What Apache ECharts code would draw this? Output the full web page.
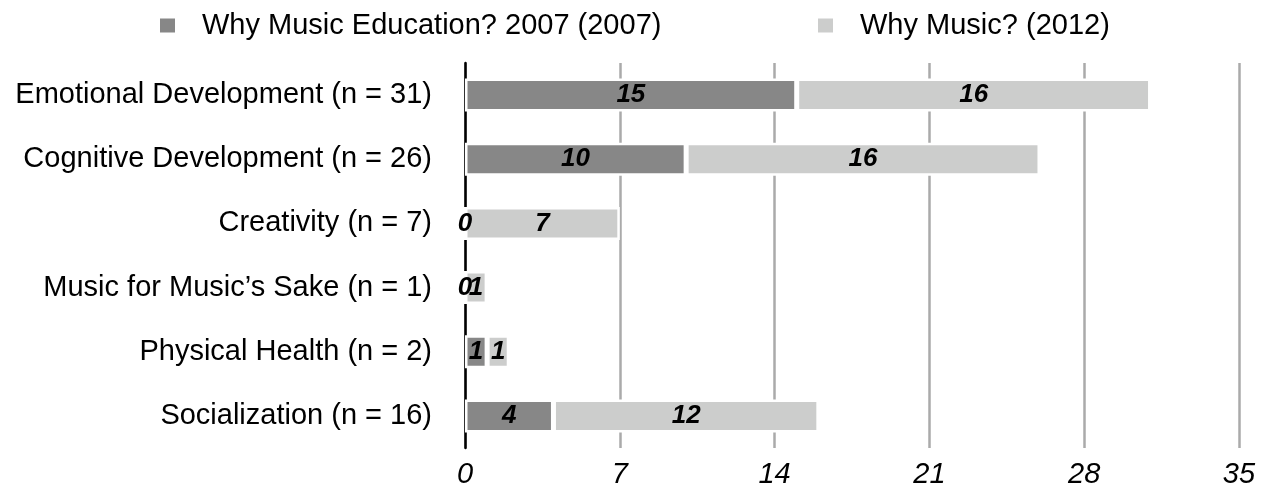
<!DOCTYPE html>
<html>
<head>
<meta charset="utf-8">
<script src="https://cdn.jsdelivr.net/npm/echarts@6/dist/echarts.min.js"></script>
<style>
  html, body { margin: 0; padding: 0; background: #fff; }
  #chartBox { width: 1265px; height: 489px; }
</style>
</head>
<body>
<div id="chartBox"></div>
<script>
// data
const categories = [
  'Emotional Development (n = 31)',
  'Cognitive Development (n = 26)',
  'Creativity (n = 7)',
  'Music for Music\u2019s Sake (n = 1)',
  'Physical Health (n = 2)',
  'Socialization (n = 16)'
]
const seriesNames = ['Why Music Education? 2007 (2007)', 'Why Music? (2012)']
const values2007 = [15, 10, 0, 0, 1, 4]
const values2012 = [16, 16, 7, 1, 1, 12]
const colors = ['#878787', '#cccdcc']

const fontFamily = 'Liberation Sans, Arial, Helvetica, sans-serif'

const barLabel = {
  show: true,
  position: 'inside',
  color: '#000',
  fontSize: 26,
  fontStyle: 'italic',
  fontWeight: 'bold',
  fontFamily: fontFamily,
}

const legendText = {
  fontSize: 29,
  color: '#000',
  fontFamily: fontFamily,
  padding: [0, 0, 0, 21],
}

const option = {
  animation: false,
  textStyle: { fontFamily: fontFamily },
  legend: [
    {
      data: [seriesNames[0]],
      left: 153,
      top: 6,
      icon: 'rect',
      itemWidth: 17,
      itemHeight: 16,
      textStyle: legendText,
    },
    {
      data: [seriesNames[1]],
      left: 811,
      top: 6,
      icon: 'rect',
      itemWidth: 17,
      itemHeight: 16,
      textStyle: legendText,
    },
  ],
  grid: {
    left: 465,
    right: 26,
    top: 63,
    height: 388,
    containLabel: false,
  },
  xAxis: {
    type: 'value',
    min: 0,
    max: 35,
    interval: 7,
    axisLine: { show: false },
    axisTick: { show: false },
    splitLine: { show: true, lineStyle: { color: '#aaaaaa', width: 2.5 } },
    axisLabel: {
      margin: 12,
      fontSize: 29,
      fontStyle: 'italic',
      color: '#000',
      fontFamily: fontFamily,
    },
  },
  yAxis: {
    type: 'category',
    data: categories,
    inverse: true,
    axisLine: { show: true, lineStyle: { color: '#000', width: 2.5 } },
    axisTick: { show: false },
    axisLabel: {
      margin: 33,
      fontSize: 29,
      color: '#000',
      fontFamily: fontFamily,
    },
  },
  series: [
    {
      name: seriesNames[0],
      type: 'bar',
      stack: 'total',
      data: values2007,
      barWidth: 33,
      itemStyle: { color: colors[0], borderColor: '#fff', borderWidth: 2.5 },
      label: barLabel,
    },
    {
      name: seriesNames[1],
      type: 'bar',
      stack: 'total',
      data: values2012,
      barWidth: 33,
      itemStyle: { color: colors[1], borderColor: '#fff', borderWidth: 2.5 },
      label: barLabel,
    },
  ],
}

const chartObj = echarts.init(document.getElementById('chartBox'))
chartObj.setOption(option)
</script>
</body>
</html>
